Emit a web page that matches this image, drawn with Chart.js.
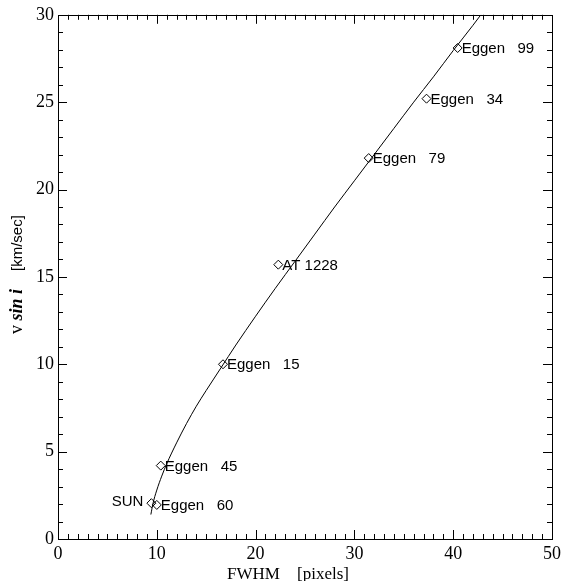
<!DOCTYPE html>
<html>
<head>
<meta charset="utf-8">
<script src="https://cdn.jsdelivr.net/npm/chart.js@4/dist/chart.umd.min.js"></script>
<style>
html,body{margin:0;padding:0;background:#fff;}
#wrap{width:565px;height:581px;position:relative;}
</style>
</head>
<body>
<div id="wrap"><canvas id="c" width="565" height="581"></canvas></div>
<script>
// Star measurements: FWHM [pixels] and v sin i [km/sec]
const starNames = ["SUN", "Eggen   60", "Eggen   45", "Eggen   15", "AT 1228", "Eggen   79", "Eggen   34", "Eggen   99"];
const starFWHM  = [9.45, 10.0, 10.4, 16.7, 22.3, 31.45, 37.3, 40.45];
const starVsini = [2.05, 1.95, 4.2, 10.0, 15.7, 21.8, 25.2, 28.1];
const labelSide = ["left", "right", "right", "right", "right", "right", "right", "right"];

// Calibration curve
const curveFWHM  = [9.4, 9.6, 10.0, 10.5, 11.0, 12.0, 13.0, 14.0, 15.0, 16.5, 18.0, 20.0, 22.0, 24.0, 26.0, 28.0, 30.0, 32.0, 34.0, 36.0, 38.0, 40.0, 42.0, 42.8];
const curveVsini = [1.4, 2.0, 2.8, 3.6, 4.3, 5.5, 6.6, 7.6, 8.5, 9.8, 11.1, 12.75, 14.35, 15.9, 17.45, 19.0, 20.5, 22.0, 23.5, 25.0, 26.45, 27.95, 29.4, 30.0];

const xTicks = [0, 10, 20, 30, 40, 50];
const yTicks = [0, 5, 10, 15, 20, 25, 30];

const serif = "'Liberation Serif','DejaVu Serif',serif";
const sans = "'Liberation Sans','DejaVu Sans',sans-serif";

const framePlugin = {
  id: 'frame',
  afterDraw(chart) {
    const ctx = chart.ctx;
    const xs = chart.scales.x, ys = chart.scales.y;
    const a = chart.chartArea;
    ctx.save();
    ctx.strokeStyle = '#000';
    ctx.lineWidth = 1;
    ctx.strokeRect(Math.round(a.left) + 0.5, Math.round(a.top) + 0.5, Math.round(a.right - a.left), Math.round(a.bottom - a.top));
    ctx.beginPath();
    for (let v = 1; v < 50; v += 1) {
      const px = Math.round(xs.getPixelForValue(v)) + 0.5;
      const len = (v % 10 === 0) ? 9 : 5;
      ctx.moveTo(px, a.bottom); ctx.lineTo(px, a.bottom - len);
      ctx.moveTo(px, a.top); ctx.lineTo(px, a.top + len);
    }
    for (let v = 1; v < 30; v += 1) {
      const py = Math.round(ys.getPixelForValue(v)) + 0.5;
      const len = (v % 5 === 0) ? 9 : 5;
      ctx.moveTo(a.left, py); ctx.lineTo(a.left + len, py);
      ctx.moveTo(a.right, py); ctx.lineTo(a.right - len, py);
    }
    ctx.stroke();

    // point labels
    const meta = chart.getDatasetMeta(1);
    ctx.font = "15px " + sans;
    ctx.fillStyle = '#000';
    ctx.textBaseline = 'middle';
    meta.data.forEach((pt, i) => {
      if (labelSide[i] === 'left') {
        ctx.textAlign = 'right';
        ctx.fillText(starNames[i], pt.x - 8, pt.y - 1);
      } else {
        ctx.textAlign = 'left';
        ctx.fillText(starNames[i], pt.x + 4, pt.y + 1);
      }
    });

    // x title
    ctx.textAlign = 'left';
    ctx.textBaseline = 'alphabetic';
    ctx.font = "17px " + serif;
    ctx.fillText("FWHM", 227, 579);
    ctx.fillText("[pixels]", 297, 579);

    // y title (rotated, mixed fonts)
    ctx.translate(22, 334);
    ctx.rotate(-Math.PI / 2);
    ctx.textAlign = 'left';
    ctx.font = "18px " + serif;
    ctx.fillText("v", 0, 0);
    let w = ctx.measureText("v ").width;
    ctx.font = "italic bold 18px " + serif;
    ctx.fillText("sin i", w, 0);
    w += ctx.measureText("sin i").width + 18;
    ctx.font = "15px " + sans;
    ctx.fillText("[km/sec]", w, 0);
    ctx.restore();
  }
};

new Chart(document.getElementById('c'), {
  type: 'scatter',
  data: {
    datasets: [
      {
        type: 'line',
        data: curveFWHM.map((x, i) => ({ x: x, y: curveVsini[i] })),
        borderColor: '#000',
        borderWidth: 1,
        pointRadius: 0,
        fill: false,
        cubicInterpolationMode: 'monotone'
      },
      {
        data: starFWHM.map((x, i) => ({ x: x, y: starVsini[i] })),
        pointStyle: 'rectRot',
        pointRadius: 4.5,
        pointBorderColor: '#000',
        pointBackgroundColor: 'rgba(0,0,0,0)',
        pointBorderWidth: 1
      }
    ]
  },
  options: {
    responsive: false,
    animation: false,
    devicePixelRatio: 1,
    layout: { padding: { left: 0, top: 12, right: 11, bottom: 0 } },
    plugins: { legend: { display: false }, tooltip: { enabled: false } },
    scales: {
      x: {
        type: 'linear', min: 0, max: 50,
        afterFit(s) { s.height = 42; },
        afterBuildTicks(s) { s.ticks = xTicks.map(v => ({ value: v })); },
        grid: { display: false, drawTicks: false },
        border: { display: false },
        ticks: { color: '#000', font: { family: serif, size: 18 }, padding: 4, maxRotation: 0 }
      },
      y: {
        type: 'linear', min: 0, max: 30,
        afterFit(s) { s.width = 58; },
        afterBuildTicks(s) { s.ticks = yTicks.map(v => ({ value: v })); },
        grid: { display: false, drawTicks: false },
        border: { display: false },
        ticks: { color: '#000', font: { family: serif, size: 18 }, padding: 4 }
      }
    }
  },
  plugins: [framePlugin]
});
</script>
</body>
</html>
